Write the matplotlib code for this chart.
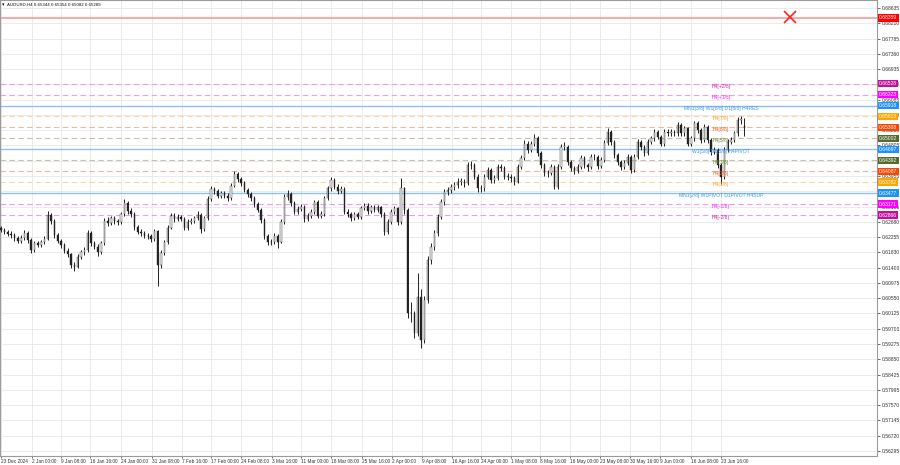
import matplotlib
matplotlib.use("Agg")
import matplotlib.pyplot as plt
import matplotlib.transforms as mtransforms
import numpy as np

plt.rcParams['font.family'] = ['Liberation Sans', 'DejaVu Sans']

# ---------------- data (AUDUSD, H4, aggregated bars) ----------------
closes = [
    0.6245, 0.6240, 0.6234, 0.6231, 0.6222, 0.6215, 0.6222, 0.6236, 0.6217, 0.6189,
    0.6208, 0.6203, 0.6211, 0.6220, 0.6287, 0.6270, 0.6231, 0.6215, 0.6203, 0.6187,
    0.6177, 0.6148, 0.6143, 0.6171, 0.6183, 0.6189, 0.6236, 0.6208, 0.6199, 0.6183,
    0.6208, 0.6270, 0.6264, 0.6278, 0.6270, 0.6267, 0.6289, 0.6320, 0.6298, 0.6289,
    0.6254, 0.6240, 0.6236, 0.6229, 0.6227, 0.6220, 0.6242, 0.6148, 0.6180, 0.6211,
    0.6252, 0.6285, 0.6276, 0.6282, 0.6276, 0.6252, 0.6268, 0.6270, 0.6278, 0.6287,
    0.6248, 0.6278, 0.6332, 0.6359, 0.6353, 0.6341, 0.6347, 0.6341, 0.6334, 0.6369,
    0.6400, 0.6387, 0.6375, 0.6357, 0.6345, 0.6334, 0.6317, 0.6301, 0.6273, 0.6227,
    0.6211, 0.6213, 0.6229, 0.6213, 0.6268, 0.6338, 0.6345, 0.6320, 0.6296, 0.6304,
    0.6310, 0.6276, 0.6285, 0.6296, 0.6322, 0.6285, 0.6289, 0.6334, 0.6361, 0.6384,
    0.6366, 0.6353, 0.6359, 0.6296, 0.6289, 0.6278, 0.6289, 0.6282, 0.6306, 0.6313,
    0.6298, 0.6308, 0.6301, 0.6308, 0.6289, 0.6240, 0.6268, 0.6296, 0.6305, 0.6268,
    0.6361, 0.6301, 0.6013, 0.6013, 0.5957, 0.6059, 0.5939, 0.6050, 0.6162, 0.6199,
    0.6236, 0.6282, 0.6324, 0.6352, 0.6356, 0.6364, 0.6370, 0.6380, 0.6380, 0.6375,
    0.6426, 0.6426, 0.6394, 0.6361, 0.6361, 0.6394, 0.6412, 0.6384, 0.6389, 0.6421,
    0.6417, 0.6394, 0.6394, 0.6389, 0.6380, 0.6421, 0.6445, 0.6486, 0.6468, 0.6486,
    0.6500, 0.6459, 0.6426, 0.6403, 0.6403, 0.6421, 0.6366, 0.6421, 0.6477, 0.6477,
    0.6435, 0.6417, 0.6410, 0.6421, 0.6445, 0.6426, 0.6421, 0.6449, 0.6448, 0.6423,
    0.6440, 0.6488, 0.6519, 0.6491, 0.6454, 0.6435, 0.6421, 0.6431, 0.6449, 0.6412,
    0.6449, 0.6491, 0.6477, 0.6459, 0.6491, 0.6500, 0.6519, 0.6505, 0.6486, 0.6519,
    0.6514, 0.6519, 0.6514, 0.6538, 0.6514, 0.6528, 0.6486, 0.6500, 0.6542, 0.6524,
    0.6496, 0.6533, 0.6496, 0.6463, 0.6468, 0.6426, 0.6394, 0.6468, 0.6491, 0.6496,
    0.6514, 0.6552, 0.6552, 0.6528,
]
opens = [
    0.6250, 0.6245, 0.6240, 0.6234, 0.6231, 0.6222, 0.6215, 0.6222, 0.6236, 0.6217,
    0.6189, 0.6208, 0.6203, 0.6211, 0.6220, 0.6287, 0.6270, 0.6231, 0.6215, 0.6203,
    0.6187, 0.6177, 0.6148, 0.6143, 0.6171, 0.6183, 0.6189, 0.6236, 0.6208, 0.6199,
    0.6183, 0.6208, 0.6270, 0.6264, 0.6278, 0.6270, 0.6267, 0.6289, 0.6320, 0.6298,
    0.6289, 0.6254, 0.6240, 0.6236, 0.6229, 0.6227, 0.6220, 0.6242, 0.6148, 0.6180,
    0.6211, 0.6252, 0.6285, 0.6276, 0.6282, 0.6276, 0.6252, 0.6268, 0.6270, 0.6278,
    0.6287, 0.6248, 0.6278, 0.6332, 0.6359, 0.6353, 0.6341, 0.6347, 0.6341, 0.6334,
    0.6369, 0.6400, 0.6387, 0.6375, 0.6357, 0.6345, 0.6334, 0.6317, 0.6301, 0.6273,
    0.6227, 0.6211, 0.6213, 0.6229, 0.6213, 0.6268, 0.6338, 0.6345, 0.6320, 0.6296,
    0.6304, 0.6310, 0.6276, 0.6285, 0.6296, 0.6322, 0.6285, 0.6289, 0.6334, 0.6361,
    0.6384, 0.6366, 0.6353, 0.6359, 0.6296, 0.6289, 0.6278, 0.6289, 0.6282, 0.6306,
    0.6313, 0.6298, 0.6308, 0.6301, 0.6308, 0.6289, 0.6240, 0.6268, 0.6296, 0.6305,
    0.6268, 0.6361, 0.6301, 0.6013, 0.6013, 0.5957, 0.6059, 0.5939, 0.6050, 0.6162,
    0.6199, 0.6236, 0.6282, 0.6324, 0.6352, 0.6356, 0.6364, 0.6370, 0.6380, 0.6380,
    0.6375, 0.6426, 0.6426, 0.6394, 0.6361, 0.6361, 0.6394, 0.6412, 0.6384, 0.6389,
    0.6421, 0.6417, 0.6394, 0.6394, 0.6389, 0.6380, 0.6421, 0.6445, 0.6486, 0.6468,
    0.6486, 0.6500, 0.6459, 0.6426, 0.6403, 0.6403, 0.6421, 0.6366, 0.6421, 0.6477,
    0.6477, 0.6435, 0.6417, 0.6410, 0.6421, 0.6445, 0.6426, 0.6421, 0.6449, 0.6448,
    0.6423, 0.6440, 0.6488, 0.6519, 0.6491, 0.6454, 0.6435, 0.6421, 0.6431, 0.6449,
    0.6412, 0.6449, 0.6491, 0.6477, 0.6459, 0.6491, 0.6500, 0.6519, 0.6505, 0.6486,
    0.6519, 0.6514, 0.6519, 0.6514, 0.6538, 0.6514, 0.6528, 0.6486, 0.6500, 0.6542,
    0.6524, 0.6496, 0.6533, 0.6496, 0.6463, 0.6468, 0.6426, 0.6394, 0.6468, 0.6491,
    0.6496, 0.6514, 0.6552, 0.6534,
]
highs = [
    0.6256, 0.6251, 0.6246, 0.6241, 0.6238, 0.6229, 0.6230, 0.6245, 0.6242, 0.6222,
    0.6214, 0.6215, 0.6218, 0.6228, 0.6298, 0.6293, 0.6276, 0.6237, 0.6221, 0.6209,
    0.6194, 0.6182, 0.6156, 0.6178, 0.6190, 0.6197, 0.6245, 0.6241, 0.6215, 0.6205,
    0.6214, 0.6278, 0.6280, 0.6285, 0.6284, 0.6276, 0.6296, 0.6331, 0.6326, 0.6305,
    0.6294, 0.6260, 0.6247, 0.6243, 0.6236, 0.6233, 0.6249, 0.6245, 0.6188, 0.6218,
    0.6259, 0.6292, 0.6293, 0.6290, 0.6288, 0.6281, 0.6275, 0.6278, 0.6285, 0.6298,
    0.6292, 0.6285, 0.6339, 0.6367, 0.6365, 0.6358, 0.6355, 0.6353, 0.6347, 0.6376,
    0.6409, 0.6406, 0.6393, 0.6381, 0.6363, 0.6351, 0.6340, 0.6323, 0.6307, 0.6278,
    0.6233, 0.6221, 0.6236, 0.6234, 0.6275, 0.6345, 0.6356, 0.6351, 0.6326, 0.6312,
    0.6318, 0.6316, 0.6292, 0.6303, 0.6330, 0.6328, 0.6297, 0.6341, 0.6368, 0.6392,
    0.6390, 0.6372, 0.6368, 0.6364, 0.6303, 0.6295, 0.6296, 0.6295, 0.6313, 0.6321,
    0.6319, 0.6315, 0.6314, 0.6315, 0.6313, 0.6294, 0.6275, 0.6304, 0.6313, 0.6310,
    0.6390, 0.6366, 0.6306, 0.6045, 0.6020, 0.6125, 0.6080, 0.6060, 0.6172, 0.6210,
    0.6245, 0.6290, 0.6332, 0.6360, 0.6366, 0.6373, 0.6380, 0.6389, 0.6390, 0.6388,
    0.6435, 0.6437, 0.6432, 0.6400, 0.6371, 0.6402, 0.6421, 0.6418, 0.6397, 0.6429,
    0.6430, 0.6423, 0.6403, 0.6401, 0.6395, 0.6429, 0.6453, 0.6495, 0.6492, 0.6494,
    0.6512, 0.6506, 0.6465, 0.6432, 0.6412, 0.6429, 0.6427, 0.6429, 0.6485, 0.6490,
    0.6483, 0.6441, 0.6423, 0.6429, 0.6453, 0.6451, 0.6432, 0.6457, 0.6458, 0.6454,
    0.6448, 0.6496, 0.6530, 0.6525, 0.6497, 0.6460, 0.6441, 0.6439, 0.6457, 0.6455,
    0.6457, 0.6499, 0.6497, 0.6483, 0.6499, 0.6508, 0.6527, 0.6525, 0.6511, 0.6527,
    0.6526, 0.6527, 0.6525, 0.6546, 0.6544, 0.6536, 0.6533, 0.6508, 0.6550, 0.6548,
    0.6530, 0.6541, 0.6538, 0.6502, 0.6476, 0.6474, 0.6432, 0.6476, 0.6499, 0.6505,
    0.6522, 0.6560, 0.6562, 0.6556,
]
lows = [
    0.6239, 0.6234, 0.6228, 0.6224, 0.6215, 0.6208, 0.6209, 0.6216, 0.6210, 0.6180,
    0.6184, 0.6197, 0.6198, 0.6205, 0.6216, 0.6262, 0.6224, 0.6208, 0.6196, 0.6180,
    0.6170, 0.6140, 0.6132, 0.6138, 0.6165, 0.6176, 0.6184, 0.6200, 0.6192, 0.6174,
    0.6178, 0.6203, 0.6256, 0.6258, 0.6263, 0.6259, 0.6262, 0.6284, 0.6291, 0.6282,
    0.6246, 0.6233, 0.6229, 0.6222, 0.6219, 0.6212, 0.6215, 0.6088, 0.6140, 0.6175,
    0.6206, 0.6247, 0.6268, 0.6270, 0.6269, 0.6244, 0.6246, 0.6261, 0.6264, 0.6272,
    0.6236, 0.6243, 0.6273, 0.6326, 0.6345, 0.6334, 0.6335, 0.6334, 0.6326, 0.6329,
    0.6364, 0.6380, 0.6368, 0.6350, 0.6338, 0.6327, 0.6310, 0.6294, 0.6265, 0.6219,
    0.6202, 0.6204, 0.6207, 0.6195, 0.6208, 0.6262, 0.6330, 0.6313, 0.6289, 0.6290,
    0.6297, 0.6268, 0.6270, 0.6279, 0.6290, 0.6278, 0.6279, 0.6284, 0.6328, 0.6355,
    0.6359, 0.6345, 0.6347, 0.6289, 0.6281, 0.6270, 0.6272, 0.6275, 0.6277, 0.6300,
    0.6291, 0.6292, 0.6294, 0.6295, 0.6282, 0.6232, 0.6235, 0.6262, 0.6290, 0.6260,
    0.6262, 0.6290, 0.6000, 0.5990, 0.5945, 0.5950, 0.5915, 0.5930, 0.6042, 0.6150,
    0.6190, 0.6228, 0.6275, 0.6316, 0.6342, 0.6348, 0.6356, 0.6363, 0.6371, 0.6366,
    0.6370, 0.6415, 0.6386, 0.6352, 0.6352, 0.6355, 0.6387, 0.6376, 0.6377, 0.6383,
    0.6409, 0.6387, 0.6385, 0.6380, 0.6371, 0.6375, 0.6415, 0.6439, 0.6460, 0.6462,
    0.6480, 0.6451, 0.6418, 0.6395, 0.6394, 0.6397, 0.6358, 0.6360, 0.6415, 0.6468,
    0.6427, 0.6409, 0.6401, 0.6403, 0.6415, 0.6418, 0.6410, 0.6415, 0.6440, 0.6415,
    0.6417, 0.6434, 0.6482, 0.6483, 0.6446, 0.6427, 0.6413, 0.6414, 0.6425, 0.6404,
    0.6406, 0.6443, 0.6469, 0.6451, 0.6453, 0.6485, 0.6494, 0.6498, 0.6479, 0.6480,
    0.6506, 0.6507, 0.6506, 0.6508, 0.6507, 0.6508, 0.6478, 0.6480, 0.6494, 0.6516,
    0.6488, 0.6490, 0.6488, 0.6455, 0.6457, 0.6418, 0.6374, 0.6388, 0.6462, 0.6484,
    0.6490, 0.6508, 0.6540, 0.6508,
]

date_labels = ["23 Dec 2024", "2 Jan 00:00", "9 Jan 08:00", "16 Jan 16:00", "24 Jan 00:00",
               "31 Jan 08:00", "7 Feb 16:00", "17 Feb 00:00", "24 Feb 08:00", "3 Mar 16:00",
               "11 Mar 00:00", "18 Mar 08:00", "25 Mar 16:00", "2 Apr 00:00", "9 Apr 08:00",
               "16 Apr 16:00", "24 Apr 00:00", "1 May 08:00", "8 May 16:00", "16 May 00:00",
               "23 May 08:00", "30 May 16:00", "9 Jun 00:00", "16 Jun 08:00", "23 Jun 16:00"]
date_bars = [0.0, 9.3, 18.0, 26.7, 36.0, 45.3, 54.3, 63.0, 72.0, 81.3, 90.0, 99.0, 108.3,
             117.3, 126.3, 135.3, 144.0, 153.0, 161.7, 170.7, 179.7, 188.7, 197.7, 207.0, 216.0]

price_ticks = [0.68635, 0.68210, 0.67785, 0.67360, 0.66935, 0.66510, 0.66085, 0.65660,
               0.65235, 0.64805, 0.64380, 0.63955, 0.63530, 0.63105, 0.62680, 0.62255,
               0.61830, 0.61400, 0.60975, 0.60550, 0.60125, 0.59700, 0.59275, 0.58850,
               0.58425, 0.57995, 0.57570, 0.57145, 0.56720, 0.56295]

level_prices = [0.66528, 0.66223, 0.65918, 0.65613, 0.65308, 0.65002, 0.64697,
                0.64392, 0.64087, 0.63782, 0.63477, 0.63171, 0.62866]
level_names = ["H4[+2/8]", "H4[+1/8]", "MN1[3/8] W1[8/8] D1[8/8] H4RES", "H4[7/8]", "H4[6/8]",
               "H4[5/8]", "W1[5/8] D1[5/8] H4PIVOT", "H4[3/8]", "H4[2/8]", "H4[1/8]",
               "MN1[2/8] W1PIVOT D1PIVOT H4SUP", "H4[-1/8]", "H4[-2/8]"]
level_kind = ["mag2", "mag", "blue", "orange", "ored", "olive", "blue", "olive", "ored",
              "orange", "blue", "mag", "mag2"]

stop_price = 0.68359
x_mark_bar = 236.8
x_mark_price = 0.68390
title_text = "AUDUSD,H4 0.65344 0.65354 0.65082 0.65289"

# ---------------- styles ----------------
line_col = {"mag2": "#f29be0", "mag": "#f79af5", "blue": "#8fc0f2", "orange": "#fbd7a8",
            "ored": "#f6b49c", "olive": "#c9c3a6"}
text_col = {"mag2": "#d01fb0", "mag": "#ff20ff", "blue": "#3a98f0", "orange": "#ff9f2a",
            "ored": "#ff5a20", "olive": "#6b8a2e"}
box_col = {"mag2": "#c0129f", "mag": "#ff00ff", "blue": "#1e90ff", "orange": "#ffa500",
           "ored": "#ff4500", "olive": "#556b2f"}
dashed = {"mag2": True, "mag": True, "blue": False, "orange": True, "ored": True, "olive": True}

W, H = 900, 465
fig = plt.figure(figsize=(W / 100, H / 100), dpi=100)
ax = fig.add_axes([0, 9 / H, 877 / W, 456 / H])
ax.set_xlim(-0.3, 262.8)
ax.set_ylim(0.56155, 0.68858)

# grid
for xb in date_bars:
    ax.axvline(xb, color="#e8e8e8", lw=0.6, zorder=0)
for p in price_ticks:
    ax.axhline(p, color="#e8e8e8", lw=0.6, zorder=0)

# levels
ax.axhline(stop_price, color="#ff9e9e", lw=1.3, zorder=1)
for p, name, k in zip(level_prices, level_names, level_kind):
    if dashed[k]:
        ax.axhline(p, color=line_col[k], lw=0.8, ls=(0, (5, 3)), zorder=1)
    else:
        ax.axhline(p, color=line_col[k], lw=1.0, zorder=1)
    ax.text(216.0, p, name, color=text_col[k], fontsize=3.6, ha="center", va="top", zorder=5)

# candles
x = np.arange(len(closes))
o = np.array(opens)
c = np.array(closes)
h = np.array(highs)
l = np.array(lows)
ax.vlines(x, l, h, color="#222222", lw=0.7, zorder=3)
up = c >= o
body_lo = np.minimum(o, c)
body_h = np.maximum(np.abs(c - o), 0.00010)
ax.bar(x[up], body_h[up], bottom=body_lo[up], width=0.45, color="#eeeeee",
       edgecolor="#333333", linewidth=0.3, zorder=4)
ax.bar(x[~up], body_h[~up], bottom=body_lo[~up], width=0.45, color="#222222",
       edgecolor="#222222", linewidth=0.3, zorder=4)

# red X mark
ax.plot([x_mark_bar], [x_mark_price], marker="x", color="#ff2020", markersize=9,
        markeredgewidth=1.2, zorder=6)

# title
ax.text(0.002, 0.995, "\u25be", transform=ax.transAxes, fontsize=3.6,
        ha="left", va="top", color="#111111")
ax.text(0.0085, 0.995, title_text, transform=ax.transAxes, fontsize=3.2,
        ha="left", va="top", color="#111111")

# axes styling
for s in ax.spines.values():
    s.set_color("#9a9a9a")
    s.set_linewidth(0.8)
ax.yaxis.tick_right()
ax.set_yticks(price_ticks)
ax.set_yticklabels([f"{p:.5f}" for p in price_ticks])
ax.tick_params(axis="y", labelsize=3.6, length=2, width=0.5, pad=1.5, colors="#333333")
ax.set_xticks(date_bars)
ax.set_xticklabels(date_labels, ha="left")
ax.tick_params(axis="x", labelsize=3.4, length=1.5, width=0.5, pad=0.3, colors="#333333")

# right-side colored price boxes
trans = mtransforms.blended_transform_factory(ax.transAxes, ax.transData)
box_prices = [stop_price] + level_prices
box_colors = ["#ff0000"] + [box_col[k] for k in level_kind]
for p, bc in zip(box_prices, box_colors):
    ax.text(1.0025, p, f"{p:.5f}", transform=trans, fontsize=3.6, color="white",
            ha="left", va="center", clip_on=False, zorder=10,
            bbox=dict(boxstyle="square,pad=0.25", fc=bc, ec="none"))

fig.savefig("out.png", dpi=100)
